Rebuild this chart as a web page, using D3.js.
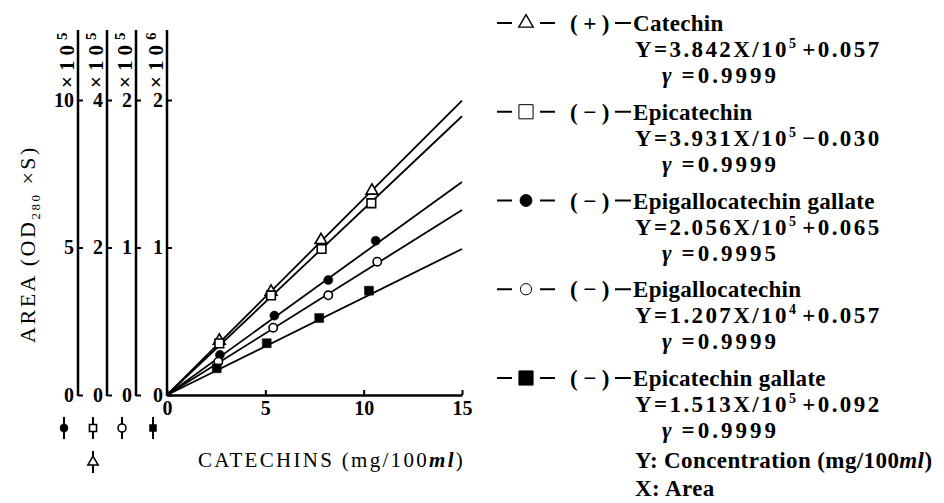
<!DOCTYPE html>
<html>
<head>
<meta charset="utf-8">
<script src="https://cdn.jsdelivr.net/npm/d3@7"></script>
<style>
  body { margin: 0; background: #fff; }
  svg text { font-family: 'Liberation Serif', 'DejaVu Serif', serif; fill: #000; }
</style>
</head>
<body>
<div class="canvas"></div>
<script>
// ======================   data   =============================================

// concentration of each standard (mg/100ml) and measured peak area (OD280 x S)
const catechinConc = [2.66, 5.29, 7.83, 10.42];
const catechinArea = [73600, 140000, 210000, 277000];
const epicatechinConc = [2.66, 5.29, 7.86, 10.39];
const epicatechinArea = [70000, 135000, 198000, 260000];
const egcgConc = [2.69, 5.46, 8.20, 10.61];
const egcgArea = [136000, 269000, 390000, 523000];
const egcConc = [2.61, 5.40, 8.20, 10.69];
const egcArea = [22600, 45600, 67600, 90400];
const ecgConc = [2.53, 5.07, 7.74, 10.27];
const ecgArea = [181000, 351000, 522000, 707000];

// area of each calibration line where it stops (15 mg/100ml), it starts at the origin
const fitEndArea = [399000, 378000, 722000, 125400, 990000];

// legend
const seriesIsomer = ["(+)", "(−)", "(−)", "(−)", "(−)"];
const seriesNames = ["Catechin", "Epicatechin", "Epigallocatechin gallate", "Epigallocatechin", "Epicatechin gallate"];
const slopes = ["3.842", "3.931", "2.056", "1.207", "1.513"];
const slopeExp = ["5", "5", "5", "4", "5"];
const intercepts = ["+0.057", "−0.030", "+0.065", "+0.057", "+0.092"];
const corrCoef = ["0.9999", "0.9999", "0.9995", "0.9999", "0.9999"];
const markerTypes = ["triangle", "square", "dot", "ring", "block"];

// the four area axes (left to right) and which series belongs to which
const areaAxisMax = [1e6, 4e5, 2e5, 2e6];
const areaAxisTicks = [[0, 5e5, 1e6], [0, 2e5, 4e5], [0, 1e5, 2e5], [0, 1e6, 2e6]];
const areaAxisExp = [5, 5, 5, 6];
const seriesAxis = [1, 1, 0, 2, 3];
const axisGlyphs = [[2], [1, 0], [3], [4]];

const concTicks = [0, 5, 10, 15];


// ======================   layout   =========================

const svgWidth = 944;
const svgHeight = 503;
const axisXs = [78, 107, 136, 167];
const plotBottom = 395;
const plotTop = 100;
const axisTop = 30;

const svg = d3.select('.canvas')
  .append('svg')
    .attr('width', svgWidth)
    .attr('height', svgHeight);

const x = d3.scaleLinear().domain([0, 15]).range([167, 462]);
const yScales = areaAxisMax.map(m => d3.scaleLinear().domain([0, m]).range([plotBottom, plotTop]));

const seriesConc = [catechinConc, epicatechinConc, egcgConc, egcConc, ecgConc];
const seriesArea = [catechinArea, epicatechinArea, egcgArea, egcArea, ecgArea];

// symbol for each marker type, size is area in px^2
function marker(sel, type, size) {
  const shape = {
    triangle: d3.symbolTriangle, square: d3.symbolSquare, dot: d3.symbolCircle,
    ring: d3.symbolCircle, block: d3.symbolSquare
  }[type];
  const filled = type === 'dot' || type === 'block';
  return sel.append('path')
    .attr('d', d3.symbol().type(shape).size(size))
    .attr('fill', filled ? '#000' : '#fff')
    .attr('stroke', '#000')
    .attr('stroke-width', filled ? 0.5 : 1.6);
}

// area axes
areaAxisMax.forEach((m, i) => {
  const g = svg.append('g').attr('transform', `translate(${axisXs[i]},0)`);
  g.call(d3.axisLeft(yScales[i])
    .tickValues(areaAxisTicks[i])
    .tickSizeInner(-5)
    .tickSizeOuter(0)
    .tickPadding(4)
    .tickFormat(d => d / Math.pow(10, areaAxisExp[i])));
  g.attr('font-family', null).attr('font-size', 20).attr('font-weight', 'bold');
  g.select('.domain').remove();
  g.selectAll('.tick line').attr('stroke-width', 2);
  g.append('line')
    .attr('y1', plotBottom + 1).attr('y2', axisTop)
    .attr('stroke', '#000').attr('stroke-width', 2.5);

  // x10^n label, rotated
  const lab = g.append('text')
    .attr('transform', `translate(-4,88) rotate(-90)`)
    .attr('text-anchor', 'start')
    .attr('font-size', 21)
    .attr('letter-spacing', 5);
  lab.append('tspan').text('×10');
  lab.append('tspan').attr('dy', -7).attr('font-size', 15).text(areaAxisExp[i]);

  // glyphs of the series read on this axis
  axisGlyphs[i].forEach((s, j) => {
    const gg = svg.append('g').attr('transform', `translate(${axisXs[i] - 14},${428 + j * 34})`);
    gg.append('line').attr('y1', -11).attr('y2', 11).attr('stroke', '#000').attr('stroke-width', 2);
    marker(gg, markerTypes[s], markerTypes[s] === 'triangle' ? 45 : 50);
  });
});

// concentration axis
const gx = svg.append('g')
  .attr('transform', `translate(0,${plotBottom})`)
  .call(d3.axisBottom(x)
    .tickValues(concTicks)
    .tickSizeInner(-5)
    .tickSizeOuter(0)
    .tickPadding(6));
gx.attr('font-family', null).attr('font-size', 20).attr('font-weight', 'bold');
gx.select('.domain').attr('stroke-width', 2.5);
gx.selectAll('.tick line').attr('stroke-width', 2);

// axis titles
const xt = svg.append('text')
  .attr('x', 198).attr('y', 467)
  .attr('font-size', 21)
  .attr('letter-spacing', 2.3);
xt.append('tspan').text('CATECHINS (mg/100');
xt.append('tspan').attr('font-style', 'italic').attr('font-weight', 'bold').text('ml');
xt.append('tspan').text(')');

const yt = svg.append('text')
  .attr('transform', 'translate(35,244) rotate(-90)')
  .attr('text-anchor', 'middle')
  .attr('font-size', 22)
  .attr('letter-spacing', 2.5);
yt.append('tspan').text('AREA (OD');
yt.append('tspan').attr('dy', 5).attr('font-size', 13).text('280');
yt.append('tspan').attr('dy', -5).text(' ×S)');

// calibration lines and points
const line = d3.line().x(d => x(d[0]));
seriesNames.forEach((name, i) => {
  const ys = yScales[seriesAxis[i]];
  svg.append('path')
    .attr('d', line.y(d => ys(d[1]))([[0, 0], [15, fitEndArea[i]]]))
    .attr('fill', 'none')
    .attr('stroke', '#000')
    .attr('stroke-width', 1.8);
});
seriesNames.forEach((name, i) => {
  const ys = yScales[seriesAxis[i]];
  const size = {triangle: 60, square: 75, dot: 65, ring: 55, block: 80}[markerTypes[i]];
  seriesConc[i].forEach((c, k) => {
    const g = svg.append('g').attr('transform', `translate(${x(c)},${ys(seriesArea[i][k])})`);
    marker(g, markerTypes[i], size);
  });
});

// legend
const legend = svg.append('g').attr('font-size', 23).attr('font-weight', 'bold');
seriesNames.forEach((name, i) => {
  const base = 31 + i * 88.75;
  const mid = base - 8;
  [[497, 512], [540, 555], [615, 631]].forEach(d => {
    legend.append('line')
      .attr('x1', d[0]).attr('x2', d[1]).attr('y1', mid).attr('y2', mid)
      .attr('stroke', '#000').attr('stroke-width', 2);
  });
  const mg = legend.append('g').attr('transform', `translate(526,${mid})`);
  const size = {triangle: 90, square: 200, dot: 110, ring: 100, block: 200}[markerTypes[i]];
  marker(mg, markerTypes[i], size).attr('stroke-width', markerTypes[i] === 'triangle' ? 1.4 : null);

  legend.append('text').attr('x', 570).attr('y', base).attr('letter-spacing', 5.5).text(seriesIsomer[i]);
  legend.append('text').attr('x', 633).attr('y', base).attr('letter-spacing', 0.3).text(name);

  const eq = legend.append('text').attr('x', 635).attr('y', base + 26).attr('letter-spacing', 2.4);
  eq.append('tspan').text('Y=' + slopes[i] + 'X/10');
  eq.append('tspan').attr('dy', -9).attr('font-size', 14).text(slopeExp[i]);
  eq.append('tspan').attr('dy', 9).attr('dx', 4).text(intercepts[i]);

  const gm = legend.append('text').attr('x', 662).attr('y', base + 52).attr('letter-spacing', 3);
  gm.append('tspan').attr('font-style', 'italic').text('γ');
  gm.append('tspan').attr('dx', 7).text('=' + corrCoef[i]);
});

const note = legend.append('text').attr('x', 635).attr('y', 468).attr('letter-spacing', 0.4);
note.append('tspan').text('Y: Concentration (mg/100');
note.append('tspan').attr('font-style', 'italic').text('ml');
note.append('tspan').text(')');
legend.append('text').attr('x', 635).attr('y', 496).attr('letter-spacing', 0.4).text('X: Area');
</script>
</body>
</html>
